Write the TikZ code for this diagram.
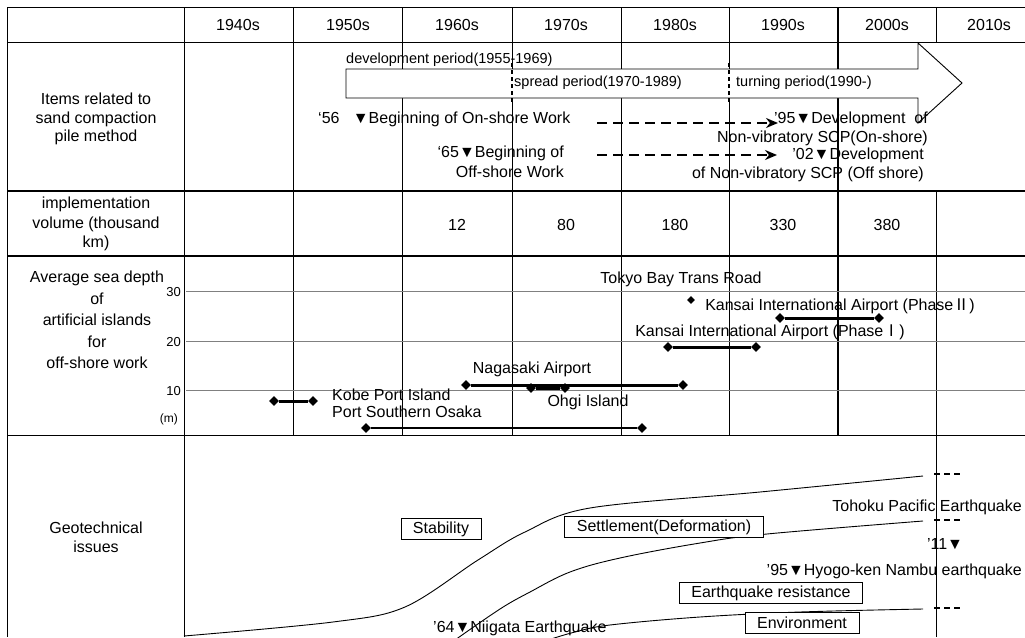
\documentclass[tikz,border=0pt]{standalone}
\usepackage{fontspec}
\setmainfont{Liberation Sans}
\newfontfamily\cjk{Noto Sans CJK JP}
\usetikzlibrary{arrows.meta,shapes.geometric}

\begin{document}
\begin{tikzpicture}[x=1pt, y=-1pt,
  tbl/.style={line width=0.9pt},
  heavy/.style={line width=2.6pt},
  gridline/.style={draw=gray, line width=1pt},
  lbl/.style={inner sep=0pt, align=center, font=\fontsize{16}{18.5}\selectfont},
  period/.style={inner sep=0pt, anchor=west, font=\fontsize{14.5}{17}\selectfont},
  depthval/.style={inner sep=0pt, anchor=east, font=\fontsize{13}{15}\selectfont},
  issue/.style={draw, line width=0.8pt, fill=white, inner xsep=12pt, inner ysep=0pt,
                minimum height=21pt, font=\fontsize{16}{18.5}\selectfont},
  dia/.style={diamond, fill=black, inner sep=0pt, minimum size=10pt},
  bar/.style={line width=3pt},
  fwd/.style={-{Stealth[length=12pt,width=10pt]}, line width=2.5pt,
              dash pattern=on 10pt off 6pt},
  divider/.style={line width=2pt, dash pattern=on 4pt off 3pt},
  trend/.style={line width=0.9pt},
  cont/.style={line width=2pt, dash pattern=on 6pt off 4pt}
]
  \useasboundingbox (0,0) rectangle (1025,637);

  % Table frame and rules
  \draw[tbl] (1025,7) -- (7,7) -- (7,637);
  \draw[tbl] (7,42) -- (1025,42);
  \draw[heavy] (7,191) -- (1025,191);
  \draw[heavy] (7,256) -- (1025,256);
  \draw[tbl] (7,435) -- (1025,435);
  \draw[tbl] (184,7) -- (184,637);
  \draw[tbl] (293,7) -- (293,435) (402,7) -- (402,435) (512,7) -- (512,435)
             (621,7) -- (621,435) (729,7) -- (729,435);
  \draw[line width=2pt] (838,7) -- (838,435);
  \draw[tbl] (936,7) -- (936,42) (936,191) -- (936,637);

  % Depth scale
  \draw[gridline] (186,291) -- (1025,291);
  \draw[gridline] (186,341) -- (1025,341);
  \draw[gridline] (186,390) -- (1025,390);

  % Decades
  \node[lbl] (d40) at (238,25) {1940s};
  \node[lbl] (d50) at (348,25) {1950s};
  \node[lbl] (d60) at (457,25) {1960s};
  \node[lbl] (d70) at (566,25) {1970s};
  \node[lbl] (d80) at (675,25) {1980s};
  \node[lbl] (d90) at (783,25) {1990s};
  \node[lbl] (d00) at (887,25) {2000s};
  \node[lbl] (d10) at (989,25) {2010s};

  % Row labels
  \node[lbl] (items) at (96,119) {Items related to\\sand compaction\\pile method};
  \node[lbl, font=\fontsize{16}{19.5}\selectfont] (volume) at (96,224)
    {implementation\\volume (thousand\\km)};
  \node[lbl, font=\fontsize{16}{21.5}\selectfont] (depth) at (97,320)
    {Average sea depth\\of\\artificial islands\\for\\off-shore work};
  \node[lbl, font=\fontsize{16}{19}\selectfont] (geo) at (96,537) {Geotechnical\\issues};

  % Periods of the method
  \draw[line width=0.9pt, fill=white] (346,69) -- (918,69) -- (918,43) -- (962,83)
    -- (918,123) -- (918,98) -- (346,98) -- cycle;
  \draw[divider] (512,63) -- (512,104);
  \draw[divider] (729,63) -- (729,104);
  \node[period] (devp) at (346,60) {development period(1955-1969)};
  \node[period] (sprp) at (514,83) {spread period(1970-1989)};
  \node[period] (turp) at (736,83) {turning period(1990-)};

  % Milestones
  \node[lbl, anchor=west] (on56) at (318,119) {‘56\ \ \ ▼Beginning of On-shore Work};
  \node[lbl, align=right, anchor=east, font=\fontsize{16}{20}\selectfont] (off65)
    at (564,162) {‘65▼Beginning of\\Off-shore Work};
  \node[lbl, align=right, anchor=east, font=\fontsize{16}{19}\selectfont] (on95)
    at (928,128.5) {’95▼Development\ \ of\\Non-vibratory SCP(On-shore)};
  \node[lbl, align=right, anchor=east, font=\fontsize{16}{19}\selectfont] (off02)
    at (924,164.5) {’02▼Development\\of Non-vibratory SCP (Off shore)};
  \coordinate (onA) at (597,123);
  \coordinate (onB) at (778,123);
  \coordinate (offA) at (597,155);
  \coordinate (offB) at (777,155);
  \draw[fwd] (onA) -- (onB);
  \draw[fwd] (offA) -- (offB);

  % Implementation volume
  \node[lbl] (v60) at (457,225) {12};
  \node[lbl] (v70) at (566,225) {80};
  \node[lbl] (v80) at (675,225) {180};
  \node[lbl] (v90) at (783,225) {330};
  \node[lbl] (v00) at (887,225) {380};

  % Sea depth of artificial islands
  \node[depthval] (s30) at (181,292) {30};
  \node[depthval] (s20) at (181,342) {20};
  \node[depthval] (s10) at (181,391) {10};
  \node[depthval, font=\fontsize{12}{14}\selectfont] (unit) at (178,419) {(m)};

  \node[dia] (kobeL) at (274,401) {};
  \node[dia] (kobeR) at (313,401) {};
  \draw[bar] (kobeL) -- (kobeR);
  \node[lbl, align=left, anchor=west, font=\fontsize{16}{17}\selectfont] (kobe)
    at (332,403) {Kobe Port Island\\Port Southern Osaka};
  \node[dia] (osakaL) at (366,428) {};
  \node[dia] (osakaR) at (642,428) {};
  \draw[line width=2.2pt] (osakaL) -- (osakaR);

  \node[dia] (nagaL) at (466,385) {};
  \node[dia] (nagaR) at (683,385) {};
  \draw[bar] (nagaL) -- (nagaR);
  \node[lbl] (naga) at (532,369) {Nagasaki Airport};
  \node[dia] (ohgiL) at (531,388) {};
  \node[dia] (ohgiR) at (565,388) {};
  \draw[bar] (ohgiL) -- (ohgiR);
  \node[lbl] (ohgi) at (588,402) {Ohgi Island};

  \node[dia] (kixaL) at (668,347) {};
  \node[dia] (kixaR) at (756,347) {};
  \draw[bar] (kixaL) -- (kixaR);
  \node[lbl] (kixa) at (770,332) {Kansai International Airport (Phase{\cjk Ⅰ})};
  \node[dia] (kixbL) at (780,318) {};
  \node[dia] (kixbR) at (879,318) {};
  \draw[bar] (kixbL) -- (kixbR);
  \node[lbl] (kixb) at (840,306) {Kansai International Airport (Phase{\cjk Ⅱ})};

  \node[dia, minimum size=8pt] (tbtr) at (691,300) {};
  \node[lbl] (tokyo) at (681,279) {Tokyo Bay Trans Road};

  % Geotechnical issues
  \draw[trend] plot[smooth, tension=0.55] coordinates {(184,636) (333,622) (405,607)
    (478,560) (525,532) (590,508) (760,492) (923,476)};
  \draw[trend] plot[smooth, tension=0.6] coordinates {(455,640) (500,609) (530,592)
    (570,572) (620,558) (700,543) (767,534) (923,521)};
  \draw[trend] plot[smooth, tension=0.6] coordinates {(548,640) (575,632) (610,625)
    (700,617) (800,612) (923,609)};
  \draw[cont] (934,474) -- (962,474);
  \draw[cont] (934,520) -- (962,520);
  \draw[cont] (934,608) -- (962,608);

  \node[issue] (stab) at (441,529) {Stability};
  \node[issue] (settle) at (664,527) {Settlement(Deformation)};
  \node[issue] (quake) at (771,593) {Earthquake resistance};
  \node[issue] (env) at (802,623) {Environment};

  \node[lbl, anchor=east] (tohoku) at (1022,507) {Tohoku Pacific Earthquake};
  \node[lbl] (q11) at (945,544) {’11▼};
  \node[lbl, anchor=east] (hyogo) at (1022,571) {’95▼Hyogo-ken Nambu earthquake};
  \node[lbl, anchor=west] (niigata) at (433,628) {’64▼Niigata Earthquake};
\end{tikzpicture}
\end{document}
